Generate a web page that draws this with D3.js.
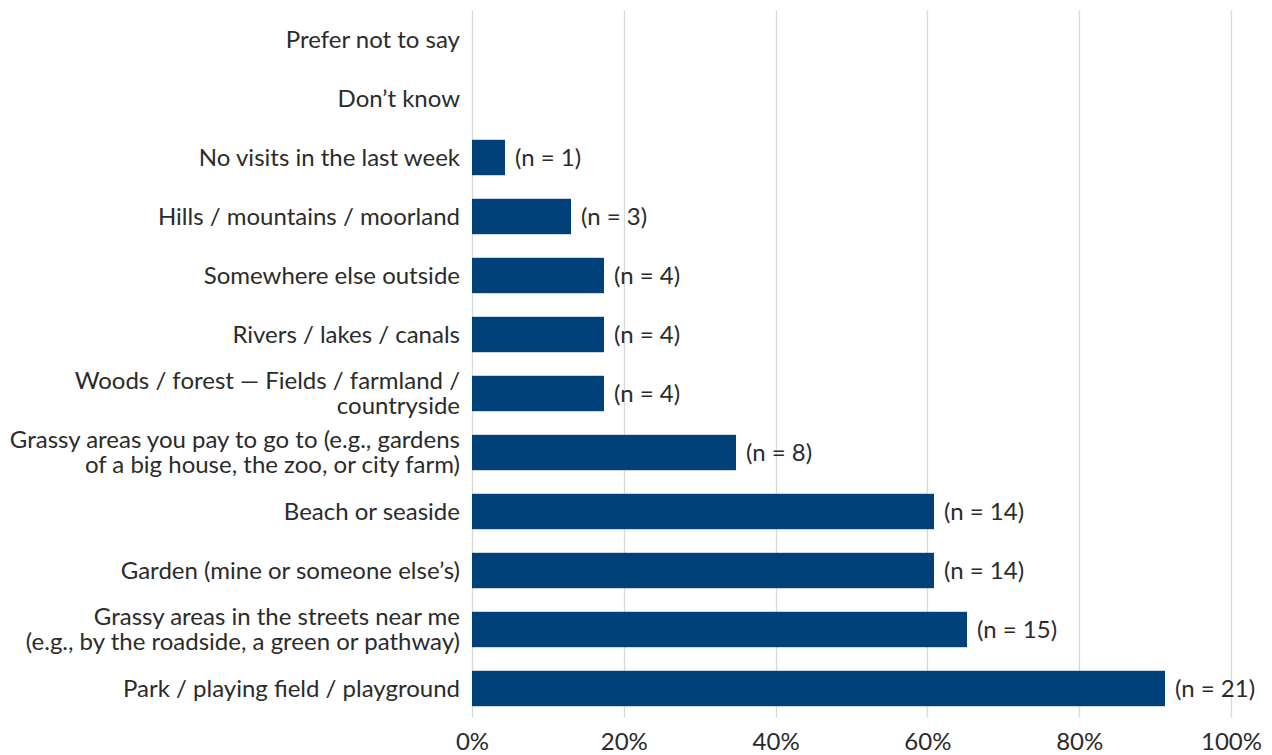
<!DOCTYPE html>
<html>
<head>
<meta charset="utf-8">
<script src="https://cdn.jsdelivr.net/npm/d3@7"></script>
<style>
  html, body { margin: 0; padding: 0; background: #ffffff; }
  svg { display: block; font-family: Lato, "Open Sans", sans-serif; }
</style>
</head>
<body>
<svg id="chart" width="1272" height="755"></svg>
<script>
// Places visited outdoors in the last week (respondents, total n = 23)
const categories = [
  ["Prefer not to say"],
  ["Don\u2019t know"],
  ["No visits in the last week"],
  ["Hills / mountains / moorland"],
  ["Somewhere else outside"],
  ["Rivers / lakes / canals"],
  ["Woods / forest \u2014 Fields / farmland /", "countryside"],
  ["Grassy areas you pay to go to (e.g., gardens", "of a big house, the zoo, or city farm)"],
  ["Beach or seaside"],
  ["Garden (mine or someone else\u2019s)"],
  ["Grassy areas in the streets near me", "(e.g., by the roadside, a green or pathway)"],
  ["Park / playing field / playground"]
];
const counts = [0, 0, 1, 3, 4, 4, 4, 8, 14, 14, 15, 21];
const totalRespondents = 23;
const tickValues = [0, 0.2, 0.4, 0.6, 0.8, 1.0];

const fontSize = 24;
const textColor = "#2b2b2b";

const svg = d3.select("#chart");
const margin = { top: 10, right: 41, bottom: 37, left: 472 };
const width = 1272 - margin.left - margin.right;
const height = 755 - margin.top - margin.bottom;

const g = svg.append("g").attr("transform", `translate(${margin.left},${margin.top})`);

const x = d3.scaleLinear().domain([0, 1]).range([0, width]);
const y = d3.scaleBand()
  .domain(d3.range(categories.length))
  .range([0, height])
  .paddingInner(0.4)
  .paddingOuter(0.2);

// Vertical gridlines
g.append("g")
  .selectAll("line")
  .data(tickValues)
  .join("line")
  .attr("x1", d => Math.round(x(d)) + 0.5)
  .attr("x2", d => Math.round(x(d)) + 0.5)
  .attr("y1", 0)
  .attr("y2", height)
  .attr("stroke", "#d9d9d9")
  .attr("stroke-width", 1.3);

// Bottom axis tick labels
const xAxis = d3.axisBottom(x)
  .tickValues(tickValues)
  .tickFormat(d3.format(".0%"))
  .tickSize(0)
  .tickPadding(15);
const ax = g.append("g").attr("transform", `translate(0,${height})`).call(xAxis);
ax.select(".domain").remove();
ax.selectAll("text")
  .attr("font-family", "Lato, 'Open Sans', sans-serif")
  .attr("font-size", fontSize)
  .attr("fill", textColor);

// Bars
g.append("g")
  .selectAll("rect")
  .data(counts)
  .join("rect")
  .attr("x", x(0))
  .attr("y", (d, i) => y(i))
  .attr("width", d => x(d / totalRespondents) - x(0))
  .attr("height", y.bandwidth())
  .attr("fill", "#00417a");

// Value labels
g.append("g")
  .selectAll("text")
  .data(counts.map((c, i) => ({ c, i })).filter(d => d.c > 0))
  .join("text")
  .attr("x", d => x(d.c / totalRespondents) + 10)
  .attr("y", d => y(d.i) + y.bandwidth() / 2)
  .attr("dy", "0.35em")
  .attr("font-size", fontSize)
  .attr("fill", textColor)
  .text(d => `(n = ${d.c})`);

// Category labels (multi-line where needed)
const lineHeight = 25;
const labels = g.append("g")
  .selectAll("text")
  .data(categories)
  .join("text")
  .attr("x", -12)
  .attr("y", (d, i) => y(i) + y.bandwidth() / 2)
  .attr("text-anchor", "end")
  .attr("font-size", fontSize)
  .attr("fill", textColor);

labels.each(function(lines) {
  const t = d3.select(this);
  const offset = -(lines.length - 1) * lineHeight / 2;
  lines.forEach((line, k) => {
    t.append("tspan")
      .attr("x", -12)
      .attr("dy", k === 0 ? (offset / fontSize + 0.35) + "em" : lineHeight + "px")
      .text(line);
  });
});
</script>
</body>
</html>
